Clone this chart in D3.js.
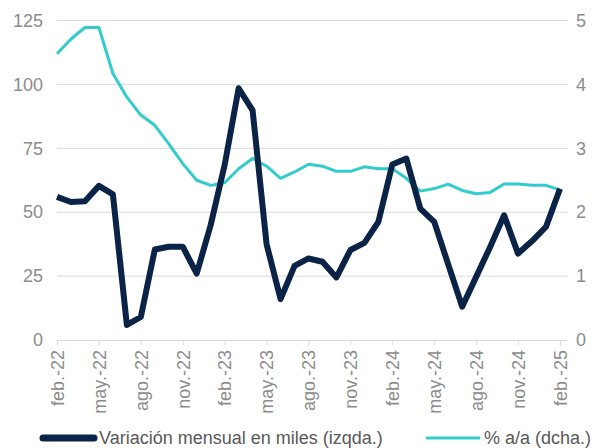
<!DOCTYPE html>
<html>
<head>
<meta charset="utf-8">
<script src="https://cdn.jsdelivr.net/npm/d3@7"></script>
<style>
  body { margin: 0; background: #fff; }
  svg { display: block; font-family: "Liberation Sans", Arial, sans-serif; }
</style>
</head>
<body>
<svg id="chart"></svg>
<script>
// months feb.-22 .. feb.-25
var monthNames = ["ene", "feb", "mar", "abr", "may", "jun", "jul", "ago", "sep", "oct", "nov", "dic"];
var months = [];
for (var k = 0; k < 37; k++) {
  var m = (1 + k) % 12, yr = 22 + Math.floor((1 + k) / 12);
  months.push(monthNames[m] + ".-" + yr);
}
// variación mensual en miles (eje izqdo.)
var mensual = [56, 54, 54.3, 60.3, 57, 5.9, 9, 35.4, 36.5, 36.5, 26, 45, 68.5, 98.5, 89.8, 37.5, 16, 29,
  31.9, 30.6, 24.5, 35.2, 38, 46.2, 68.7, 71, 51.4, 46.2, 29.6, 13, 24.7, 36.4, 48.8, 33.8, 38.7, 44.3, 59.2];
// % a/a (eje dcho.)
var interanual = [4.48, 4.71, 4.89, 4.89, 4.17, 3.80, 3.52, 3.36, 3.07, 2.76, 2.5, 2.42, 2.46, 2.68, 2.84, 2.72, 2.53, 2.63,
  2.75, 2.72, 2.64, 2.64, 2.71, 2.68, 2.68, 2.53, 2.33, 2.37, 2.44, 2.34, 2.29, 2.31, 2.44, 2.44, 2.42, 2.42, 2.35];
var leftTicks = [0, 25, 50, 75, 100, 125];
var rightTicks = [0, 1, 2, 3, 4, 5];
var seriesNames = ["Variación mensual en miles (izqda.)", "% a/a (dcha.)"];

var width = 594, height = 448;
var navy = "#0a2346", teal = "#33cccc", grey = "#8c8c8c";

var svg = d3.select("#chart").attr("width", width).attr("height", height);

var x = d3.scaleLinear().domain([0, months.length - 1]).range([57, 560]);
var yL = d3.scaleLinear().domain([0, 125]).range([340, 20.5]);
var yR = d3.scaleLinear().domain([0, 5]).range([340, 20.5]);

// gridlines
svg.append("g").selectAll("line")
  .data(leftTicks.slice(1))
  .enter().append("line")
  .attr("x1", 57).attr("x2", 568)
  .attr("y1", function(d) { return yL(d); })
  .attr("y2", function(d) { return yL(d); })
  .attr("stroke", "#d9d9d9").attr("stroke-width", 1);

// left axis
var gl = svg.append("g").attr("transform", "translate(43,0)")
  .call(d3.axisLeft(yL).tickValues(leftTicks).tickSize(0).tickPadding(0));
gl.select(".domain").remove();
gl.selectAll("text").attr("fill", grey).style("font-size", "18px");

// right axis
var gr = svg.append("g").attr("transform", "translate(576,0)")
  .call(d3.axisRight(yR).tickValues(rightTicks).tickFormat(d3.format("d")).tickSize(0).tickPadding(0));
gr.select(".domain").remove();
gr.selectAll("text").attr("fill", grey).style("font-size", "18px");

// x axis
var tickIdx = d3.range(0, months.length, 3);
var gx = svg.append("g").attr("transform", "translate(0,340)")
  .call(d3.axisBottom(x).tickValues(tickIdx).tickSize(5).tickSizeOuter(0)
    .tickFormat(function(d) { return months[d]; }));
gx.select(".domain").attr("d", "M57,0.5H568").attr("stroke", "#d9d9d9");
gx.selectAll(".tick line").attr("stroke", "#d9d9d9");
gx.selectAll("text")
  .attr("fill", grey).style("font-size", "18px")
  .attr("text-anchor", "end")
  .attr("transform", "rotate(-90)")
  .attr("x", -10).attr("y", 0).attr("dy", "0.35em");

// lines
var lineL = d3.line().x(function(d, i) { return x(i); }).y(function(d) { return yL(d); });
var lineR = d3.line().x(function(d, i) { return x(i); }).y(function(d) { return yR(d); });

svg.append("path").datum(interanual)
  .attr("d", lineR).attr("fill", "none")
  .attr("stroke", teal).attr("stroke-width", 3).attr("stroke-linejoin", "round");

svg.append("path").datum(mensual)
  .attr("d", lineL).attr("fill", "none")
  .attr("stroke", navy).attr("stroke-width", 6).attr("stroke-linejoin", "round");

// legend
var legend = svg.append("g");
var items = [
  {name: seriesNames[0], color: navy, w: 7, x1: 43, x2: 94, tx: 99},
  {name: seriesNames[1], color: teal, w: 3, x1: 427, x2: 479, tx: 484}
];
items.forEach(function(it) {
  legend.append("line")
    .attr("x1", it.x1).attr("x2", it.x2).attr("y1", 438).attr("y2", 438)
    .attr("stroke", it.color).attr("stroke-width", it.w).attr("stroke-linecap", "round");
  legend.append("text")
    .attr("x", it.tx).attr("y", 438).attr("dy", "0.35em")
    .attr("fill", "#595959").style("font-size", "18px")
    .text(it.name);
});
</script>
</body>
</html>
